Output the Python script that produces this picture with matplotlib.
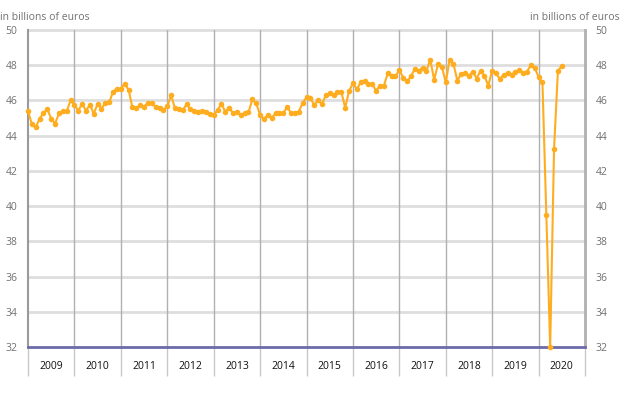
import matplotlib
matplotlib.use("Agg")
import matplotlib.pyplot as plt
import numpy as np

plt.rcParams['font.family'] = ['Open Sans', 'DejaVu Sans']

years = list(range(2009, 2021))
start_year = 2009
values = [
    # 2009
    45.40, 44.65, 44.47, 44.97, 45.28, 45.50, 44.97, 44.68, 45.26, 45.38, 45.38, 46.00,
    # 2010
    45.75, 45.42, 45.81, 45.42, 45.76, 45.25, 45.81, 45.54, 45.87, 45.90, 46.50, 46.66,
    # 2011
    46.66, 46.96, 46.60, 45.60, 45.55, 45.72, 45.63, 45.88, 45.84, 45.62, 45.58, 45.46,
    # 2012
    45.66, 46.29, 45.55, 45.49, 45.45, 45.78, 45.51, 45.42, 45.34, 45.42, 45.34, 45.23,
    # 2013
    45.17, 45.45, 45.81, 45.36, 45.59, 45.27, 45.36, 45.15, 45.27, 45.32, 46.06, 45.83,
    # 2014
    45.17, 44.94, 45.17, 44.98, 45.30, 45.30, 45.30, 45.60, 45.30, 45.30, 45.36, 45.87,
    # 2015
    46.17, 46.12, 45.74, 46.02, 45.78, 46.31, 46.40, 46.31, 46.50, 46.48, 45.59, 46.53,
    # 2016
    46.97, 46.65, 47.02, 47.12, 46.94, 46.92, 46.56, 46.84, 46.84, 47.53, 47.36, 47.36,
    # 2017
    47.73, 47.30, 47.09, 47.36, 47.81, 47.70, 47.85, 47.68, 48.32, 47.17, 48.06, 47.92,
    # 2018
    47.02, 48.32, 48.06, 47.13, 47.51, 47.58, 47.41, 47.64, 47.24, 47.70, 47.39, 46.84,
    # 2019
    47.70, 47.53, 47.22, 47.47, 47.53, 47.45, 47.64, 47.73, 47.55, 47.64, 48.00, 47.87,
    # 2020
    47.32, 47.02, 39.47, 32.00, 43.25, 47.70, 47.94,
]
y_ticks = [32, 34, 36, 38, 40, 42, 44, 46, 48, 50]
unit_label = "in billions of euros"

x = start_year + np.arange(len(values)) / 12.0

fig = plt.figure(figsize=(6.25, 3.93), dpi=100)
ax = fig.add_axes([28/625, 1-347/393, (585-28)/625, (347-30)/393])

ax.set_xlim(years[0], years[-1] + 1)
ax.set_ylim(32, 50)

# horizontal grid
for t in y_ticks[1:]:
    ax.axhline(t, color='#dedede', lw=2, zorder=1, clip_on=False)
# year boundaries
for yr in years[1:]:
    ax.axvline(yr, color='#b0b0b0', lw=1, zorder=1)

# bottom line
ax.axhline(32, color='#6b6ba8', lw=2, zorder=3, clip_on=False)

ax.plot(x, values, color='#FFAD20', lw=1.5, marker='o', markersize=4,
        markeredgewidth=0, zorder=5, clip_on=False)

for s in ['top', 'bottom']:
    ax.spines[s].set_visible(False)
ax.spines['left'].set_color('#9a9a9a')
ax.spines['left'].set_linewidth(1.5)
ax.spines['right'].set_color('#b0b0b0')
ax.spines['right'].set_linewidth(2)

ax.set_yticks(y_ticks)
ax.set_yticklabels([str(t) for t in y_ticks])
ax.tick_params(axis='y', left=False, right=False, labelleft=True, labelright=True,
               labelsize=7.5, labelcolor='#707070', pad=4)

ax.set_xticks(years + [years[-1] + 1])
ax.set_xticklabels([])
ax.tick_params(axis='x', which='major', direction='out', length=21, width=1,
               color='#c8c8c8')
ax.set_xticks([yr + 0.5 for yr in years], minor=True)
ax.set_xticklabels([str(yr) for yr in years], minor=True)
ax.tick_params(axis='x', which='minor', length=0, labelsize=7.5, labelcolor='#111111', pad=10)

fig.text(0/625, 1-17/393, unit_label, ha='left', va='center', fontsize=7.5, color='#707070')
fig.text(620/625, 1-17/393, unit_label, ha='right', va='center', fontsize=7.5, color='#707070')

fig.savefig('out.png', dpi=100, facecolor='white')
